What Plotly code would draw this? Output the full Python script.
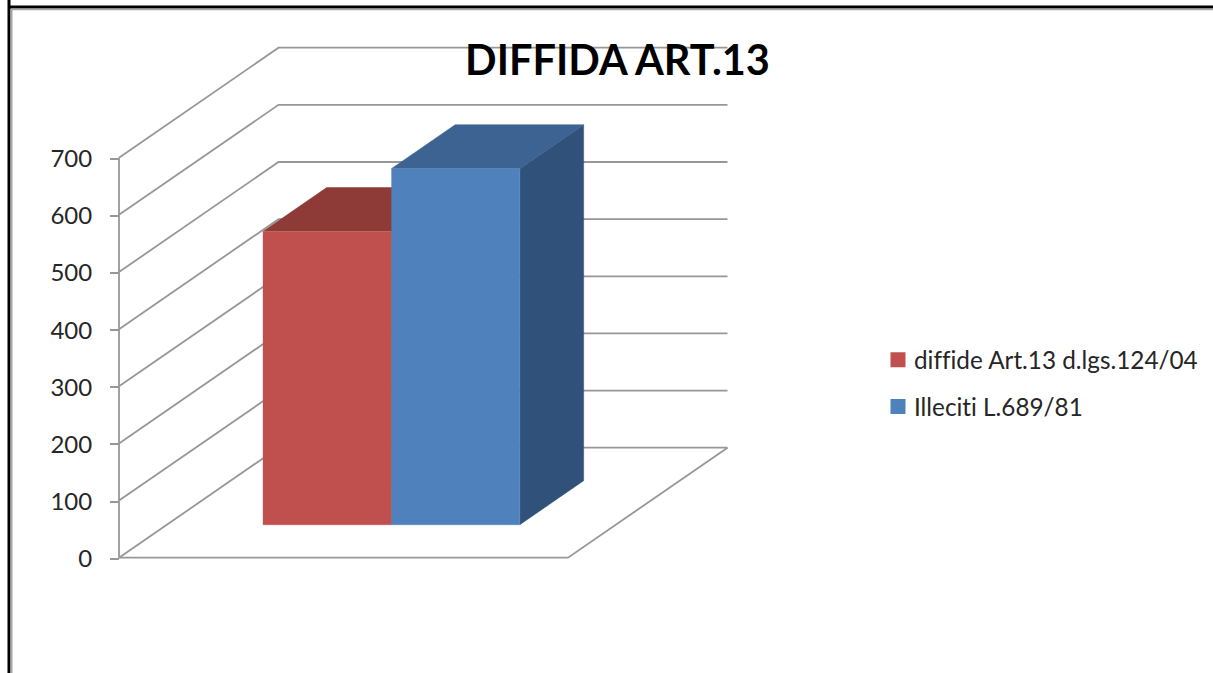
import plotly.graph_objects as go

title = "DIFFIDA ART.13"
series_names = ["diffide Art.13 d.lgs.124/04", "Illeciti L.689/81"]
series_values = [513, 623]
tick_values = [0, 100, 200, 300, 400, 500, 600, 700]

front_colors = ["#C0504D", "#4F81BD"]
top_colors = ["#8E3B38", "#3C6391"]
side_colors = ["#7F3331", "#305179"]
GRID = "#979797"
TEXT = "#262626"

W, H = 1213, 673
PX0, PY0 = 119.0, 557.7      # pixel of the origin
PX_U = 449.0                 # pixels for one category width
PX_V = 0.5714                # pixels per value unit
DX, DY = 159.5 / PX_U, 110.0 / PX_V   # oblique shift at full depth


def proj(u, v, d):
    return u + DX * d, v + DY * d


def poly(points):
    xs, ys = zip(*[proj(*p) for p in points])
    return list(xs), list(ys)


fig = go.Figure()


def line(points):
    x, y = poly(points)
    fig.add_trace(go.Scatter(x=x, y=y, mode="lines", showlegend=False, hoverinfo="skip",
                             line=dict(color=GRID, width=1.8)))


def face(points, color):
    x, y = poly(points)
    fig.add_trace(go.Scatter(x=x, y=y, mode="lines", fill="toself", fillcolor=color,
                             line=dict(color=color, width=0.5), showlegend=False, hoverinfo="skip"))


# walls and floor
for v in tick_values:
    line([(0, v, 0), (0, v, 1), (1, v, 1)])
line([(0, tick_values[0], 0), (0, tick_values[-1], 0)])
line([(0, 0, 0), (1, 0, 0), (1, 0, 1)])

# bars
n = len(series_values)
gap = 96.0 / PX_U
bw = (1 - 2 * gap) / n
d0, d1 = 0.3, 0.7
for i, val in enumerate(series_values):
    a, b = gap + i * bw, gap + (i + 1) * bw
    face([(b, 0, d0), (b, 0, d1), (b, val, d1), (b, val, d0)], side_colors[i])
    face([(a, val, d0), (a, val, d1), (b, val, d1), (b, val, d0)], top_colors[i])
    face([(a, 0, d0), (b, 0, d0), (b, val, d0), (a, val, d0)], front_colors[i])

# legend entries
for i, name in enumerate(series_names):
    fig.add_trace(go.Scatter(x=[None], y=[None], mode="markers", name=name, legendgroup=name,
                             marker=dict(symbol="square", size=15, color=front_colors[i])))

frame = [
    (9, 0, 9, H, "#000000", 3), (9, 7, W, 7, "#000000", 3),
    (11.5, 9, 11.5, H, "#A6A6A6", 2), (11, 9.5, W, 9.5, "#A6A6A6", 1.5),
]

fig.update_layout(
    width=W, height=H, autosize=False,
    margin=dict(l=0, r=0, t=0, b=0),
    paper_bgcolor="white", plot_bgcolor="white",
    font=dict(family="Lato", color=TEXT),
    title=dict(text=f"<b>{title}</b>", x=617.5 / W, xanchor="center", y=1 - 60 / H, yanchor="middle",
               font=dict(family="Lato", size=41.5, color="#000000")),
    xaxis=dict(range=[-PX0 / PX_U, (W - PX0) / PX_U], visible=False, fixedrange=True),
    yaxis=dict(range=[(PY0 - H) / PX_V, PY0 / PX_V], anchor="free", position=PX0 / W,
               tickmode="array", tickvals=tick_values, ticks="outside", ticklen=9, tickwidth=1.8,
               tickcolor=GRID, showgrid=False, zeroline=False, showline=False,
               ticklabelstandoff=13, tickfont=dict(family="Lato", size=24, color=TEXT), fixedrange=True),
    legend=dict(x=878 / W, y=1 - 337.5 / H, xanchor="left", yanchor="top", tracegroupgap=12,
                font=dict(family="Lato", size=24.3, color=TEXT), bgcolor="rgba(0,0,0,0)",
                itemclick=False, itemdoubleclick=False),
    shapes=[dict(type="line", xref="paper", yref="paper", x0=a / W, x1=c / W, y0=1 - b / H, y1=1 - d / H,
                 line=dict(color=col, width=w), layer="above") for a, b, c, d, col, w in frame],
)

post = """
document.body.style.margin='0';document.body.style.overflow='hidden';
var s=document.createElement('style');
s.textContent='text{font-variant-ligatures:none !important;} .legendtext{transform:translateX(-4px);} .yaxislayer-above{transform:translateY(1px);}';
document.head.appendChild(s);
"""
fig.write_html("out.html", config=dict(displayModeBar=False), post_script=post)
